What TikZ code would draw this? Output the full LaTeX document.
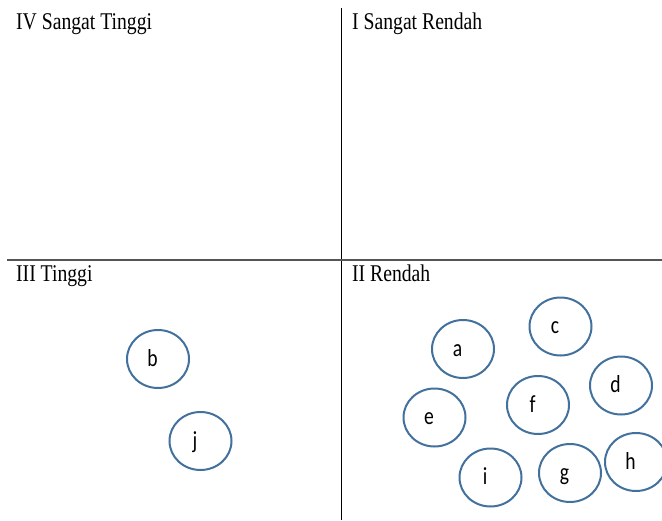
\documentclass[tikz,border=0pt]{standalone}
\usepackage{fontspec}
\setmainfont{Liberation Serif}
\newfontfamily\lettersf{Carlito}
\usetikzlibrary{shapes.geometric}
\definecolor{ringblue}{HTML}{41719C}
\definecolor{axisgray}{HTML}{555555}
\begin{document}
\begin{tikzpicture}[x=1pt,y=-1pt,
  ring/.style={ellipse, draw=ringblue, line width=2pt, minimum width=62pt, minimum height=58pt, inner sep=0pt},
  letter/.style={anchor=base, font=\lettersf\fontsize{24.5}{26}\selectfont, xscale=0.8, inner sep=0pt},
  quadtitle/.style={anchor=base west, font=\fontsize{24}{28}\selectfont, xscale=0.82, inner sep=0pt}]
\useasboundingbox[fill=white] (0,0) rectangle (662,520);
% axes
\coordinate (vt) at (341,8);
\coordinate (vb) at (341,520);
\coordinate (hl) at (7,259.5);
\coordinate (hr) at (662,259.5);
\draw[line width=1pt, black] (vt) -- (vb);
\draw[line width=2pt, axisgray] (hl) -- (hr);
% quadrant titles
\node[quadtitle] (q4) at (16,29) {IV Sangat Tinggi};
\node[quadtitle] (q1) at (352,29) {I Sangat Rendah};
\node[quadtitle] (q3) at (16,281) {III Tinggi};
\node[quadtitle] (q2) at (352,281) {II Rendah};
% ellipses
\foreach \n/\cx/\cy in {b/158/359, j/200.5/441, a/463/349, c/560.5/326.5, d/621/385.5, f/538/405, e/434.5/417.5, i/490.5/477.5, g/570/473, h/636/462}{
  \node[ring] (\n) at (\cx,\cy) {};
  \node[letter] (\n-t) at ([xshift=-5.5pt,yshift=-7pt]\n.center) {\n};
}
\end{tikzpicture}
\end{document}
